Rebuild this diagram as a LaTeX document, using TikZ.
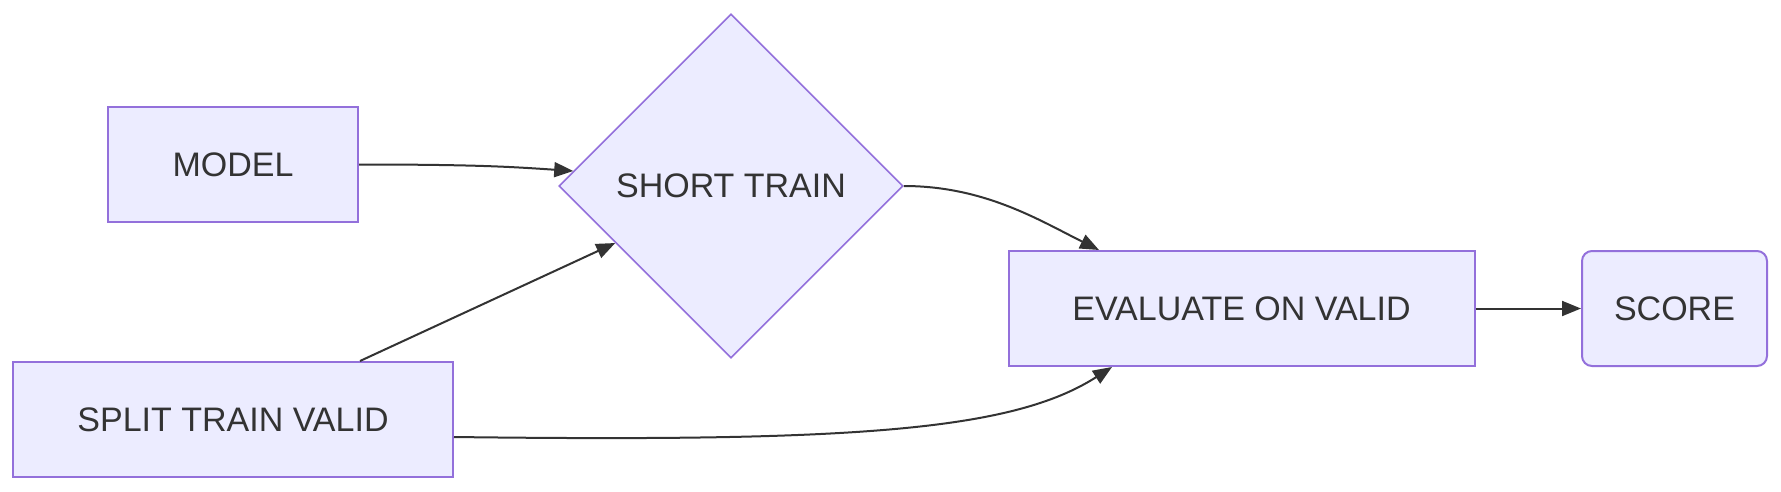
\documentclass[tikz,border=0pt]{standalone}
\usepackage{fontspec}
\setmainfont{Liberation Sans}
\usetikzlibrary{shapes.geometric,arrows.meta,calc}
\definecolor{nodefill}{HTML}{ECECFF}
\definecolor{nodeborder}{HTML}{9370DB}
\definecolor{ink}{HTML}{333333}
\tikzset{
  box/.style={draw=nodeborder, fill=nodefill, line width=2pt, minimum height=115pt, inner sep=0pt,
    text=ink, font=\fontsize{34}{40}\selectfont},
  decision/.style={diamond, draw=nodeborder, fill=nodefill, line width=1.6pt, minimum width=344pt,
    minimum height=344pt, inner sep=0pt, aspect=1, text=ink, font=\fontsize{34}{40}\selectfont},
  link/.style={draw=ink, line width=2pt, -{Triangle[length=19pt,width=15pt]}},
}
\begin{document}
\begin{tikzpicture}[x=1pt,y=-1pt]
\useasboundingbox (0,0) rectangle (1781,491);
\node[box, minimum width=250pt] (model) at (233,164.5) {MODEL};
\node[decision] (dia) at (731,186) {SHORT TRAIN};
\node[box, minimum width=440pt] (split) at (233,419.5) {SPLIT TRAIN VALID};
\node[box, minimum width=466pt] (eval) at (1241.5,308.5) {EVALUATE ON VALID};
\node[box, minimum width=185pt, rounded corners=10pt] (score) at (1674.5,308.5) {SCORE};

\draw[link] (model.east) .. controls +(120,0) and +(-60,-4) .. ($(dia.west)!0.087!(dia.north)$);
\draw[link] ([xshift=127pt]split.north) -- ($(dia.west)!0.33!(dia.south)$);
\draw[link] (dia.east) .. controls +(80,0) and +(-60,-30) .. ([xshift=-142.5pt]eval.north);
\draw[link] ([yshift=-17.5pt]split.east) .. controls +(400,5) and +(-100,64) .. ([xshift=-129.5pt]eval.south);
\draw[link] (eval.east) -- (score.west);
\end{tikzpicture}
\end{document}
